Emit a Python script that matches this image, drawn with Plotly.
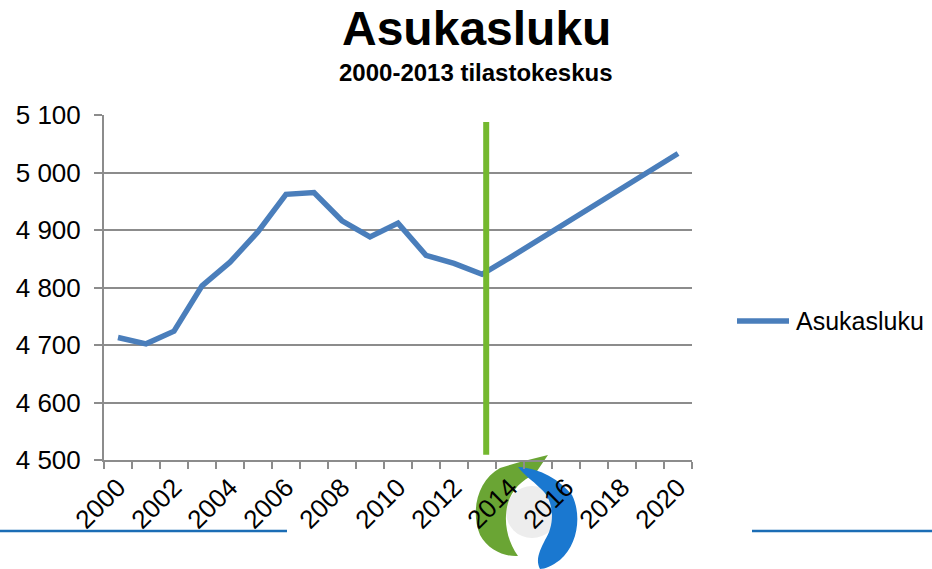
import plotly.graph_objects as go

# ---- data ----
years = list(range(2000, 2021))
population = [4713, 4702, 4724, 4803, 4844, 4897, 4962, 4965, 4916, 4888,
              4912, 4856, 4842, 4823, 4852, 4882, 4912, 4943, 4973, 5003, 5033]
series_name = "Asukasluku"
title_text = "Asukasluku"
subtitle_text = "2000-2013 tilastokeskus"
divider_year = 2013.15
divider_range = [4509, 5088]
y_range = [4500, 5100]
label_years = years[::2]

FONT = "Liberation Sans, Arial, sans-serif"
BLUE = "#4A7EBB"
GREEN = "#74B82E"
GRID = "#8C8C8C"

# plot-area geometry (pixels) used for decoration placement
L, R, T, B = 104, 692, 115, 460
W, H = 932, 569


def px(x):
    return (x - L) / (R - L)


def py(y):
    return (B - y) / (B - T)


def path(cmds):
    out = []
    for c in cmds:
        if isinstance(c, str):
            out.append(c)
        else:
            out.append(f"{px(c[0]):.4f},{py(c[1]):.4f}")
    return " ".join(out)


fig = go.Figure()
fig.add_trace(go.Scatter(
    x=years, y=population, mode="lines", name=series_name,
    line=dict(color=BLUE, width=5.5), showlegend=False,
))

shapes = []
# green divider
shapes.append(dict(type="line", xref="x", yref="y",
                   x0=divider_year, x1=divider_year,
                   y0=divider_range[0], y1=divider_range[1],
                   line=dict(color=GREEN, width=6), layer="above"))
# manual legend sample
shapes.append(dict(type="line", xref="paper", yref="paper",
                   x0=px(737), x1=px(789), y0=py(321), y1=py(321),
                   line=dict(color=BLUE, width=5.5)))
# bottom decorative blue lines
shapes.append(dict(type="line", xref="paper", yref="paper",
                   x0=px(0), x1=px(287), y0=py(531), y1=py(531),
                   line=dict(color="#1B6DB5", width=2.5)))
shapes.append(dict(type="line", xref="paper", yref="paper",
                   x0=px(752), x1=px(932), y0=py(531), y1=py(531),
                   line=dict(color="#1B6DB5", width=2.5)))
# logo approximation
shapes.append(dict(type="circle", xref="paper", yref="paper",
                   x0=px(506), x1=px(558), y0=py(538), y1=py(486),
                   fillcolor="#EDEDED", line=dict(width=0), layer="below"))
green_path = path(["M", (548, 455), "L", (520, 462), "L", (500, 468),
                   "C", (478, 480), (470, 510), (480, 535),
                   "C", (488, 550), (505, 557), (518, 556),
                   "C", (510, 545), (505, 530), (506, 515),
                   "C", (507, 495), (518, 482), (535, 474), "Z"])
shapes.append(dict(type="path", xref="paper", yref="paper", path=green_path,
                   fillcolor="#6AA534", line=dict(width=0), layer="below"))
blue_path = path(["M", (518, 467),
                  "C", (540, 468), (560, 480), (572, 495),
                  "C", (582, 515), (578, 545), (560, 560),
                  "C", (552, 566), (545, 569), (540, 569),
                  "C", (535, 560), (540, 550), (545, 540),
                  "C", (555, 525), (555, 500), (540, 488),
                  "C", (532, 480), (525, 476), (518, 467), "Z"])
shapes.append(dict(type="path", xref="paper", yref="paper", path=blue_path,
                   fillcolor="#1A78D0", line=dict(width=0), layer="below"))

annotations = [
    dict(text=f"<b>{title_text}</b>", xref="paper", yref="paper",
         x=px(476), y=py(29), xanchor="center", yanchor="middle",
         showarrow=False, font=dict(family=FONT, size=48, color="black")),
    dict(text=f"<b>{subtitle_text}</b>", xref="paper", yref="paper",
         x=px(476), y=py(72), xanchor="center", yanchor="middle",
         showarrow=False, font=dict(family=FONT, size=24, color="black")),
    dict(text=series_name, xref="paper", yref="paper",
         x=px(794), y=py(321), xanchor="left", yanchor="middle",
         showarrow=False, font=dict(family=FONT, size=25, color="black")),
]

minor_ticks = [y - 0.5 for y in years] + [years[-1] + 0.5]

fig.update_layout(
    width=W, height=H,
    margin=dict(l=L, r=W - R, t=T, b=H - B),
    paper_bgcolor="white", plot_bgcolor="rgba(0,0,0,0)",
    separators=", ",
    font=dict(family=FONT, color="black"),
    shapes=shapes, annotations=annotations,
    showlegend=False,
    xaxis=dict(
        range=[years[0] - 0.5, years[-1] + 0.5],
        tickmode="array", tickvals=label_years,
        ticktext=[str(y) for y in label_years],
        tickangle=-45, ticks="", showgrid=False, zeroline=False,
        showline=True, linecolor=GRID, linewidth=2,
        tickfont=dict(family=FONT, size=26, color="black"),
        minor=dict(tickmode="array", tickvals=minor_ticks, ticks="outside",
                   ticklen=7, tickwidth=2, tickcolor=GRID, showgrid=False),
    ),
    yaxis=dict(
        range=y_range, dtick=100, tick0=4500, tickformat=",d",
        showgrid=True, gridcolor=GRID, gridwidth=2, zeroline=False,
        showline=True, linecolor=GRID, linewidth=2,
        ticks="outside", ticklen=8, tickwidth=2, tickcolor=GRID,
        tickfont=dict(family=FONT, size=26, color="black"),
        ticklabelstandoff=8,
    ),
)

fig.write_html("out.html",
               config={"displayModeBar": False},
               post_script="document.body.style.margin='0';"
                           "document.body.style.overflow='hidden';")
